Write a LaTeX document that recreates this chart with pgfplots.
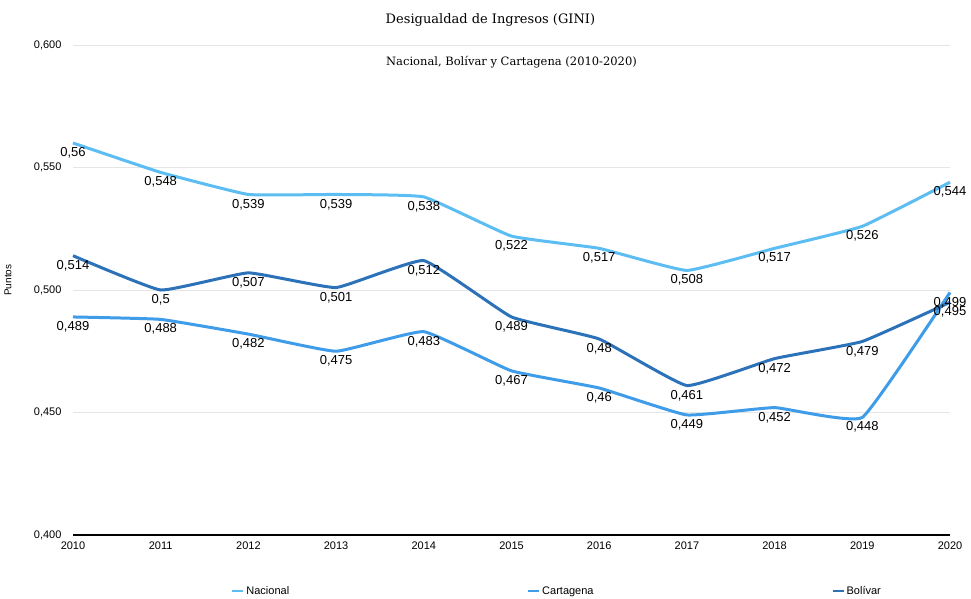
\documentclass[border=0pt]{standalone}
\usepackage{fontspec}
\setmainfont{Liberation Sans}
\newfontfamily\titlefont{DejaVu Serif}
\usepackage{pgfplots}
\pgfplotsset{compat=1.18}
\definecolor{cnac}{HTML}{5BBDF2}
\definecolor{ccar}{HTML}{3E9CE8}
\definecolor{cbol}{HTML}{2C72B8}
\begin{document}
\begin{tikzpicture}
\useasboundingbox (-73pt,-63pt) rectangle (898pt,535pt);
\begin{axis}[
  scale only axis,
  width=877pt, height=490pt,
  at={(0,0)}, anchor=south west,
  xmin=2010, xmax=2020, ymin=0.4, ymax=0.6,
  xtick={2010,2011,...,2020},
  ytick={0.40,0.45,0.50,0.55,0.60},
  /pgf/number format/assume math mode=true,
  xticklabel style={font=\fontsize{11}{13}\selectfont, yshift=-3pt,/pgf/number format/.cd,set thousands separator={},precision=0, fixed},
  yticklabel style={font=\fontsize{11}{13}\selectfont, xshift=-8pt,/pgf/number format/.cd,fixed,fixed zerofill,precision=3,use comma},
  axis x line*=bottom, axis y line*=left,
  y axis line style={draw=none},
  x axis line style={black, line width=1.2pt, -},
  major tick length=0pt,
  ymajorgrids,
  grid style={gray!20, line width=0.8pt},
  ylabel={Puntos}, ylabel style={font=\fontsize{10}{12}\selectfont, at={(axis description cs:-0.066,0.52)}},
  clip=false,
  every axis plot/.append style={line width=3pt, smooth, tension=0.2, mark=none},
  nodes near coords={\pgfmathprintnumber[use comma,precision=3]{\pgfplotspointmeta}},
  every node near coord/.append style={font=\fontsize{13}{15}\selectfont, black, anchor=north, inner sep=1pt, yshift=-2pt},
  legend columns=3,
  legend style={draw=none, fill=none, font=\fontsize{11}{13}\selectfont, at={(axis description cs:0.177,-0.114)}, anchor=west, nodes={text height=1.6ex, text depth=0.4ex}, /tikz/every even column/.append style={column sep=236pt}},
  legend image code/.code={\draw[line width=2pt, #1] (0pt,0pt) -- (11pt,0pt);},
]
\addplot[cnac] coordinates {(2010,0.56) (2011,0.548) (2012,0.539) (2013,0.539) (2014,0.538) (2015,0.522) (2016,0.517) (2017,0.508) (2018,0.517) (2019,0.526) (2020,0.544)};
\addlegendentry{Nacional}
\addplot[ccar] coordinates {(2010,0.489) (2011,0.488) (2012,0.482) (2013,0.475) (2014,0.483) (2015,0.467) (2016,0.46) (2017,0.449) (2018,0.452) (2019,0.448) (2020,0.499)};
\addlegendentry{Cartagena}
\addplot[cbol] coordinates {(2010,0.514) (2011,0.5) (2012,0.507) (2013,0.501) (2014,0.512) (2015,0.489) (2016,0.48) (2017,0.461) (2018,0.472) (2019,0.479) (2020,0.495)};
\addlegendentry{Bolívar}
\node[font=\titlefont\fontsize{13}{15}\selectfont] at (axis description cs:0.476,1.051) {Desigualdad de Ingresos (GINI)};
\node[font=\titlefont\fontsize{11.5}{13}\selectfont] at (axis description cs:0.5,0.965) {Nacional, Bolívar y Cartagena (2010-2020)};
\end{axis}
\end{tikzpicture}
\end{document}
